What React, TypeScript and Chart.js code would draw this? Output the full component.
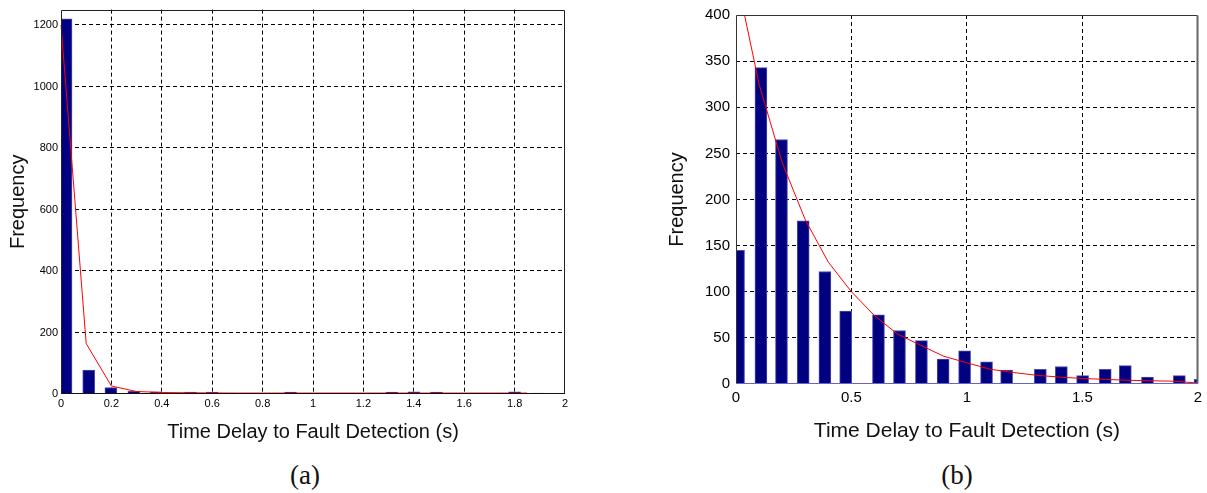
import React, { useEffect, useRef } from "react";
import { Chart, registerables } from "chart.js";

Chart.register(...registerables);

// ---------- Data: chart (a) ----------
const binCentersA = [0.02, 0.11, 0.198, 0.289, 0.378, 0.514, 0.6, 0.911, 1.313, 1.4, 1.49, 1.8, 1.89];
const countsA = [1220, 78, 21, 9, 7, 6, 6, 6, 6, 7, 6, 7, 3];
const fitXA = [0, 0.1, 0.2, 0.3, 0.4, 0.5, 0.6, 0.7, 0.8, 0.9, 1.0, 1.1, 1.2, 1.3, 1.4, 1.5, 1.6, 1.7, 1.8, 1.85];
const fitYA = [1200, 164, 26, 8, 5, 4, 3.5, 3, 3, 3, 3, 3, 3, 3, 3, 3, 3, 3, 3, 3];
const xTicksA = [0, 0.2, 0.4, 0.6, 0.8, 1, 1.2, 1.4, 1.6, 1.8, 2];
const yTicksA = [0, 200, 400, 600, 800, 1000, 1200];
const yMaxA = 1250;

// ---------- Data: chart (b) ----------
const binCentersB = [0.011, 0.108, 0.197, 0.291, 0.385, 0.475, 0.617, 0.708, 0.803, 0.897, 0.99, 1.085, 1.172, 1.318, 1.409, 1.501, 1.599, 1.686, 1.782, 1.92, 2.01];
const countsB = [145, 343, 265, 177, 122, 79, 75, 58, 47, 27, 36, 24, 15, 16, 19, 9, 16, 20, 7.5, 9, 5];
const fitXB = [0.037, 0.1, 0.2, 0.3, 0.4, 0.5, 0.6, 0.7, 0.8, 0.9, 1.0, 1.1, 1.2, 1.3, 1.4, 1.5, 1.6, 1.7, 1.8, 1.9, 2.0];
const fitYB = [400, 325, 240, 178, 132, 100, 74, 54, 42, 30, 23, 16, 12.5, 9.5, 7.5, 6, 5, 4, 3.5, 3, 1];
const xTicksB = [0, 0.5, 1, 1.5, 2];
const yTicksB = [0, 50, 100, 150, 200, 250, 300, 350, 400];
const yMaxB = 400;

const xLabel = "Time Delay to Fault Detection (s)";
const yLabel = "Frequency";
const captions = ["(a)", "(b)"];

const SANS = "'Liberation Sans', Arial, Helvetica, sans-serif";

const framePlugin = {
  id: "frame",
  afterDatasetsDraw(chart: any, _args: any, opts: any) {
    const { ctx, chartArea } = chart;
    const l = Math.round(chartArea.left) + 0.5;
    const r = Math.round(chartArea.right) - 0.5;
    const t = Math.round(chartArea.top) + 0.5;
    const b = Math.round(chartArea.bottom) - 0.5;
    ctx.save();
    ctx.setLineDash([]);
    const line = (x1: number, y1: number, x2: number, y2: number, c: string, w: number) => {
      ctx.strokeStyle = c;
      ctx.lineWidth = w;
      ctx.beginPath();
      ctx.moveTo(x1, y1);
      ctx.lineTo(x2, y2);
      ctx.stroke();
    };
    line(l, t, r, t, opts.top || "#222", 1);
    line(r, t, r, b, opts.right || "#222", opts.rightWidth || 1);
    line(l, t, l, b, opts.left || "#222", 1);
    line(l - 0.5, b, r + 0.5, b, opts.bottom || "#222", 1);
    ctx.restore();
  },
};

function makeConfig(p: any) {
  const edgeTransparent = (ticks: number[]) => (c: any) => {
    const v = c.tick ? c.tick.value : null;
    if (v === ticks[0] || v === ticks[ticks.length - 1]) return "rgba(0,0,0,0)";
    return "#000";
  };
  return {
    type: "bar",
    data: {
      datasets: [
        {
          type: "line",
          data: p.fitX.map((x: number, i: number) => ({ x, y: p.fitY[i] })),
          borderColor: "#ff0000",
          borderWidth: 1,
          pointRadius: 0,
          tension: 0,
          fill: false,
          order: 0,
          clip: 1,
        },
        {
          type: "bar",
          data: p.bins.map((x: number, i: number) => ({ x, y: p.counts[i] })),
          backgroundColor: "#000080",
          borderColor: "#4b4bb0",
          borderWidth: 1,
          borderSkipped: "start",
          barThickness: p.barThickness,
          order: 1,
          clip: 0,
        },
      ],
    },
    options: {
      responsive: false,
      animation: false,
      events: [],
      layout: { padding: p.padding },
      plugins: {
        legend: { display: false },
        tooltip: { enabled: false },
        frame: p.frame,
      },
      scales: {
        x: {
          type: "linear",
          min: 0,
          max: 2,
          offset: false,
          afterBuildTicks: (s: any) => {
            s.ticks = p.xTicks.map((v: number) => ({ value: v }));
          },
          afterFit: (s: any) => {
            s.height = p.xHeight;
          },
          ticks: {
            font: { family: SANS, size: p.tickSize },
            color: "#000",
            padding: p.xTickPad,
            maxRotation: 0,
            autoSkip: false,
            callback: (v: any) => String(v),
          },
          grid: { offset: false, drawTicks: false, color: edgeTransparent(p.xTicks), lineWidth: 1 },
          border: { display: false, dash: [4, 3] },
          title: {
            display: true,
            text: xLabel,
            font: { family: SANS, size: p.xTitleSize },
            color: "#111",
            padding: { top: 0, bottom: p.xTitlePad },
          },
        },
        y: {
          type: "linear",
          min: 0,
          max: p.yMax,
          afterBuildTicks: (s: any) => {
            s.ticks = p.yTicks.map((v: number) => ({ value: v }));
          },
          afterFit: (s: any) => {
            s.width = p.yWidth;
          },
          ticks: {
            font: { family: SANS, size: p.tickSize },
            color: "#000",
            padding: p.yTickPad,
            autoSkip: false,
            callback: (v: any) => String(v),
          },
          grid: { drawTicks: false, color: edgeTransparent([0, p.yMax]), lineWidth: 1 },
          border: { display: false, dash: [4, 3] },
          title: {
            display: true,
            text: yLabel,
            font: { family: SANS, size: 20 },
            color: "#111",
            padding: { top: p.yTitlePad, bottom: 0 },
          },
        },
      },
    },
    plugins: [framePlugin],
  };
}

const cfgA = {
  bins: binCentersA,
  counts: countsA,
  fitX: fitXA,
  fitY: fitYA,
  xTicks: xTicksA,
  yTicks: yTicksA,
  yMax: yMaxA,
  barThickness: 12,
  padding: { left: 0, top: 6, right: 35, bottom: 0 },
  xHeight: 56,
  yWidth: 61,
  tickSize: 11,
  xTickPad: 3,
  yTickPad: 3,
  xTitleSize: 20,
  xTitlePad: 6,
  yTitlePad: 6,
  frame: { top: "#222", right: "#222", left: "#222", bottom: "#111" },
};

const cfgB = {
  bins: binCentersB,
  counts: countsB,
  fitX: fitXB,
  fitY: fitYB,
  xTicks: xTicksB,
  yTicks: yTicksB,
  yMax: yMaxB,
  barThickness: 12,
  padding: { left: 50, top: 11, right: 6, bottom: 0 },
  xHeight: 66,
  yWidth: 79,
  tickSize: 15,
  xTickPad: 5,
  yTickPad: 6,
  xTitleSize: 21,
  xTitlePad: 6,
  yTitlePad: 8,
  frame: { top: "#333", right: "#666", rightWidth: 2, left: "#333", bottom: "#6666c8" },
};

function ChartCanvas({ cfg, left }: { cfg: any; left: number }) {
  const ref = useRef<HTMLCanvasElement | null>(null);
  useEffect(() => {
    if (!ref.current) return;
    const chart = new Chart(ref.current, makeConfig(cfg) as any);
    return () => chart.destroy();
  }, []);
  return (
    <canvas
      ref={ref}
      width={600}
      height={450}
      style={{ position: "absolute", left, top: 0, width: 600, height: 450 }}
    />
  );
}

export default function App() {
  const capStyle = (cx: number): React.CSSProperties => ({
    position: "absolute",
    left: cx - 50,
    top: 462,
    width: 100,
    textAlign: "center",
    fontFamily: "'Liberation Serif', 'Times New Roman', serif",
    fontSize: 27,
    lineHeight: "27px",
    color: "#111",
  });
  return (
    <div
      style={{
        position: "absolute",
        left: 0,
        top: 0,
        width: 1207,
        height: 493,
        background: "#fff",
        overflow: "hidden",
      }}
    >
      <ChartCanvas cfg={cfgA} left={0} />
      <ChartCanvas cfg={cfgB} left={607} />
      <div style={capStyle(305)}>{captions[0]}</div>
      <div style={capStyle(957)}>{captions[1]}</div>
    </div>
  );
}
